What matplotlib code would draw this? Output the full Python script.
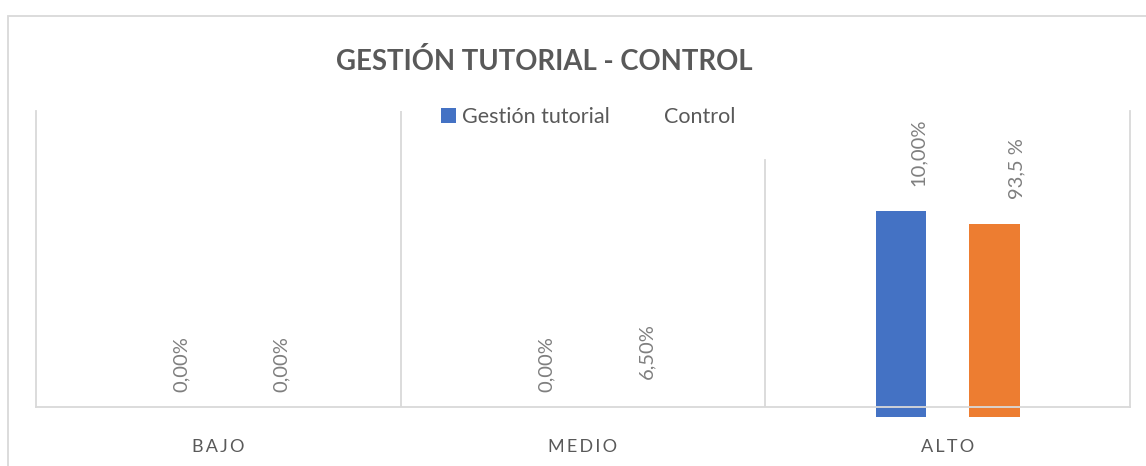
import matplotlib.pyplot as plt
from matplotlib.patches import Patch, Rectangle

# datos
categorias = ['BAJO', 'MEDIO', 'ALTO']
gestion = [0, 0, 100]          # altura visible de las barras
control = [0, 0, 93.5]
gestion_lbl_y = [0, 0, 100]    # altura donde van las etiquetas
control_lbl_y = [0, 6.5, 93.5]
gestion_txt = ['0,00%', '0,00%', '10,00%']
control_txt = ['0,00%', '6,50%', '93,5 %']

azul = '#4472c4'
naranja = '#ed7d31'
gris = '#d9d9d9'
fam = ['Lato', 'DejaVu Sans']

fig = plt.figure(figsize=(11.46, 4.66), dpi=100)
W, H = 1146.0, 466.0

# marco exterior del grafico
fig.patches.append(Rectangle((8 / W, -0.1), 1.2, 1 - 16 / H + 0.1, transform=fig.transFigure,
                             fill=False, edgecolor=gris, linewidth=1.3))

ax = fig.add_axes([36 / W, 59 / H, 1094 / W, 296 / H])
x = range(len(categorias))
off = 0.128
w = 0.138
ax.bar([i - off for i in x], gestion, w, color=azul, clip_on=False, zorder=1)
ax.bar([i + off for i in x], control, w, color=naranja, clip_on=False, zorder=1)

ax.set_xlim(-0.5, 2.5)
ax.set_ylim(4.85, 148.5)

ax.spines['top'].set_visible(False)
for s in ['left', 'right', 'bottom']:
    ax.spines[s].set_color(gris)
    ax.spines[s].set_linewidth(1.3)
    ax.spines[s].set_zorder(3)
ax.axvline(0.5, color=gris, lw=1.3)
ax.axvline(1.5, ymax=0.834, color=gris, lw=1.3)

ax.set_yticks([])
ax.set_xticks(list(x))
ax.set_xticklabels(['\u2009'.join(c) for c in categorias], family=fam, fontsize=13,
                   color='#595959')
ax.tick_params(axis='x', length=0, pad=23)

# etiquetas de datos
lbl_dx = [(-0.102, 0.173), (-0.102, 0.175), (-0.08, 0.19)]
for i in x:
    ax.annotate(gestion_txt[i], (i + lbl_dx[i][0], gestion_lbl_y[i]), xytext=(0, 18),
                textcoords='offset points', rotation=90, ha='center', va='bottom',
                family=fam, fontsize=14.5, color='#7f7f7f', annotation_clip=False)
    ax.annotate(control_txt[i], (i + lbl_dx[i][1], control_lbl_y[i]), xytext=(0, 18),
                textcoords='offset points', rotation=90, ha='center', va='bottom',
                family=fam, fontsize=14.5, color='#7f7f7f', annotation_clip=False)

fig.text(544 / W, 1 - 62 / H, 'GESTIÓN TUTORIAL - CONTROL', ha='center', va='center',
         family=fam, fontsize=19.8, fontweight='bold', color='#595959')

handles = [Patch(facecolor=azul), Patch(facecolor='none', edgecolor='none')]
fig.legend(handles, ['Gestión tutorial', 'Control'], loc='center',
           bbox_to_anchor=(588 / W, 1 - 117 / H), ncol=2, frameon=False,
           prop={'family': fam, 'size': 15.5}, labelcolor='#595959',
           handlelength=0.7, handleheight=0.7, handletextpad=0.3, columnspacing=1.5)

fig.savefig('out.png', dpi=100)
